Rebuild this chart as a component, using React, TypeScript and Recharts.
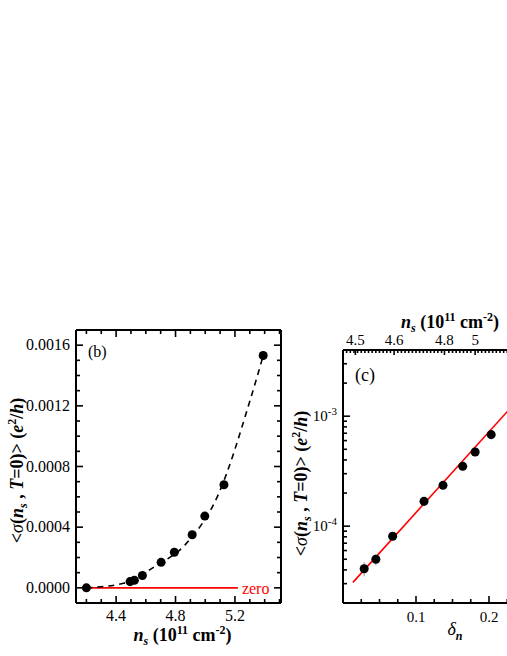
import React from "react";
import { ComposedChart, XAxis, YAxis, Scatter, Line, Label, LabelList, ErrorBar } from "recharts";

const FONT = "Liberation Serif, Times New Roman, serif";

// ---- panel (b): linear sigma vs n_s ----
const NS_B = [4.2, 4.494, 4.523, 4.577, 4.703, 4.792, 4.912, 4.997, 5.126, 5.39];
const SIGMA_B = [0, 4.1e-5, 5.0e-5, 8.1e-5, 1.68e-4, 2.35e-4, 3.5e-4, 4.73e-4, 6.8e-4, 1.532e-3];
const FIT_NS_B = [4.2, 4.45, 4.66, 4.87, 5.09, 5.3, 5.39];
const FIT_SIGMA_B = [0, 3e-5, 1.4e-4, 2.9e-4, 6.2e-4, 1.23e-3, 1.53e-3];
const ZERO_NS = [4.2, 5.22];
const NS_TICKS_B = [4.2, 4.3, 4.4, 4.5, 4.6, 4.7, 4.8, 4.9, 5.0, 5.1, 5.2, 5.3, 5.4, 5.5];
const NS_LABELS_B = [4.4, 4.8, 5.2];
const SIGMA_TICKS_B = [
  0, 0.0001, 0.0002, 0.0003, 0.0004, 0.0005, 0.0006, 0.0007, 0.0008,
  0.0009, 0.001, 0.0011, 0.0012, 0.0013, 0.0014, 0.0015, 0.0016,
];
const SIGMA_LABELS_B = [0, 0.0004, 0.0008, 0.0012, 0.0016];

// ---- panel (c): log sigma vs delta_n ----
const DELTA_C = [0.029, 0.045, 0.068, 0.111, 0.137, 0.164, 0.181, 0.203];
const SIGMA_C = [4.1e-5, 5.0e-5, 8.1e-5, 1.68e-4, 2.35e-4, 3.5e-4, 4.73e-4, 6.8e-4];
const ERR_C = [6e-6, 6e-6, 0, 0, 0, 0, 0, 0];
const FIT_DELTA_C = [0.0136, 0.24];
const FIT_SIGMA_C = [3.08e-5, 1.42e-3];
const DELTA_TICKS_C = [0.025, 0.05, 0.075, 0.1, 0.125, 0.15, 0.175, 0.2, 0.225, 0.25, 0.275];
const DELTA_LABELS_C = [0.1, 0.2];
const TOP_NS_LABELS = ["4.5", "4.6", "4.8", "5"];
const TOP_NS_POS = [0.017, 0.07, 0.139, 0.181];
const LOG_LABELS_C = [1e-4, 1e-3];

// minor ticks (axis decoration only)
const TOP_TICKS_C = Array.from({ length: 59 }, (_, i) => +((i + 1) * 0.005).toFixed(3))
  .filter((v) => !TOP_NS_POS.some((t) => Math.abs(t - v) < 0.002))
  .concat(TOP_NS_POS)
  .sort((a, b) => a - b);
const LOG_TICKS_C = [1e-5, 1e-4, 1e-3]
  .flatMap((d) => [1, 2, 3, 4, 5, 6, 7, 8, 9].map((m) => m * d))
  .filter((v) => v >= 2e-5 && v <= 4e-3);

const near = (arr: number[], v: number) => arr.some((t) => Math.abs(t - v) < 1e-12);

type Side = "bottom" | "top" | "left" | "right";
type TickOpts = { size: number; major: number; minor: number; gap: number };

function makeTick(
  side: Side,
  majors: number[],
  fmt: ((v: number) => React.ReactNode) | null,
  o: TickOpts
) {
  return (props: any) => {
    const { x, y, payload } = props;
    const v = payload.value as number;
    const isMajor = near(majors, v);
    const len = isMajor ? o.major : o.minor;
    const txt = isMajor && fmt ? fmt(v) : null;
    const t = { fontFamily: FONT, style: { fontFamily: FONT }, fontSize: o.size, fill: "#000" };
    const s = { stroke: "#000", strokeWidth: 1.6 };
    let ln;
    let label = null;
    if (side === "bottom") {
      ln = <line x1={x} y1={y} x2={x} y2={y - len} {...s} />;
      if (txt != null) label = <text x={x} y={y + o.gap} textAnchor="middle" {...t}>{txt}</text>;
    } else if (side === "top") {
      ln = <line x1={x} y1={y} x2={x} y2={y + len} {...s} />;
      if (txt != null) label = <text x={x} y={y - o.gap} textAnchor="middle" {...t}>{txt}</text>;
    } else if (side === "left") {
      ln = <line x1={x} y1={y} x2={x + len} y2={y} {...s} />;
      if (txt != null) label = <text x={x - o.gap} y={y + 5} textAnchor="end" {...t}>{txt}</text>;
    } else {
      ln = <line x1={x} y1={y} x2={x - len} y2={y} {...s} />;
    }
    return (
      <g>
        {ln}
        {label}
      </g>
    );
  };
}

const AXIS = {
  type: "number" as const,
  tickSize: 0,
  tickMargin: 0,
  interval: 0 as const,
  allowDataOverflow: true,
  tickLine: false,
  axisLine: { stroke: "#000", strokeWidth: 2 },
};

const TITLE = 18;
const SUP = 12;
const TXT = { fontFamily: FONT, style: { fontFamily: FONT }, fill: "#000" };

function NsTitle({ x, y }: { x: number; y: number }) {
  return (
    <text x={x} y={y} textAnchor="middle" fontSize={TITLE} fontWeight="bold" {...TXT}>
      <tspan fontStyle="italic">n</tspan>
      <tspan dy={4} fontSize={SUP} fontStyle="italic">s</tspan>
      <tspan dy={-4}> (10</tspan>
      <tspan dy={-7} fontSize={SUP}>11</tspan>
      <tspan dy={7}> cm</tspan>
      <tspan dy={-7} fontSize={SUP}>-2</tspan>
      <tspan dy={7}>)</tspan>
    </text>
  );
}

function SigmaTitle({ x, y }: { x: number; y: number }) {
  return (
    <text
      x={x}
      y={y}
      transform={`rotate(-90 ${x} ${y})`}
      textAnchor="middle"
      fontSize={TITLE}
      fontWeight="bold"
      {...TXT}
    >
      {"<"}
      <tspan fontStyle="italic" fontWeight="normal">σ</tspan>(
      <tspan fontStyle="italic">n</tspan>
      <tspan dy={4} fontSize={SUP} fontStyle="italic">s</tspan>
      <tspan dy={-4}>{" , "}</tspan>
      <tspan fontStyle="italic">T</tspan>
      {"=0)> ("}
      <tspan fontStyle="italic">e</tspan>
      <tspan dy={-7} fontSize={SUP}>2</tspan>
      <tspan dy={7}>/</tspan>
      <tspan fontStyle="italic">h</tspan>)
    </text>
  );
}

function PanelB() {
  const points = NS_B.map((x, i) => ({ x, y: SIGMA_B[i] }));
  const fit = FIT_NS_B.map((x, i) => ({ x, y: FIT_SIGMA_B[i] }));
  const zero = ZERO_NS.map((x, i) => ({ x, y: 0, name: i === ZERO_NS.length - 1 ? "zero" : "" }));
  const xDom: [number, number] = [4.13, 5.51];
  const yDom: [number, number] = [-0.0001, 0.0017];
  return (
    <ComposedChart width={300} height={356} margin={{ top: 29, right: 18, bottom: 23, left: 16 }}>
      <XAxis
        {...AXIS}
        xAxisId="b"
        dataKey="x"
        domain={xDom}
        ticks={NS_TICKS_B}
        height={30}
        tick={makeTick("bottom", NS_LABELS_B, (v) => v.toFixed(1), { size: 16, major: 7, minor: 4, gap: 18 })}
      >
        <Label content={(p: any) => <NsTitle x={p.viewBox.x + p.viewBox.width / 2 + 4} y={p.viewBox.y + 38} />} />
      </XAxis>
      <XAxis
        {...AXIS}
        xAxisId="t"
        dataKey="x"
        orientation="top"
        domain={xDom}
        ticks={NS_TICKS_B}
        height={1}
        tick={makeTick("top", NS_LABELS_B, null, { size: 16, major: 7, minor: 4, gap: 0 })}
      >
        <Label
          content={(p: any) => (
            <text x={p.viewBox.x + 12} y={p.viewBox.y + 28} fontSize={16} {...TXT}>
              (b)
            </text>
          )}
        />
      </XAxis>
      <YAxis
        {...AXIS}
        yAxisId="l"
        dataKey="y"
        domain={yDom}
        ticks={SIGMA_TICKS_B}
        width={60}
        tick={makeTick("left", SIGMA_LABELS_B, (v) => v.toFixed(4), { size: 16, major: 7, minor: 4, gap: 6 })}
      >
        <Label content={(p: any) => <SigmaTitle x={p.viewBox.x + 7} y={p.viewBox.y + p.viewBox.height / 2 + 4} />} />
      </YAxis>
      <YAxis
        {...AXIS}
        yAxisId="r"
        dataKey="y"
        orientation="right"
        domain={yDom}
        ticks={SIGMA_TICKS_B}
        width={1}
        tick={makeTick("right", SIGMA_LABELS_B, null, { size: 16, major: 7, minor: 4, gap: 0 })}
      />
      {/* invisible series so the top/right frame axes get a scale */}
      <Line xAxisId="t" yAxisId="r" data={points} dataKey="y" stroke="none" dot={false} activeDot={false} isAnimationActive={false} />
      <Line
        xAxisId="b"
        yAxisId="l"
        data={zero}
        dataKey="y"
        type="linear"
        stroke="#ff0000"
        strokeWidth={1.6}
        dot={false}
        activeDot={false}
        isAnimationActive={false}
      >
        <LabelList dataKey="name" position="right" offset={4} fill="#ff0000" fontFamily={FONT} style={{ fontFamily: FONT }} fontSize={16} />
      </Line>
      <Line
        xAxisId="b"
        yAxisId="l"
        data={fit}
        dataKey="y"
        type="monotone"
        stroke="#000"
        strokeWidth={1.6}
        strokeDasharray="6 5"
        dot={false}
        activeDot={false}
        isAnimationActive={false}
      />
      <Scatter xAxisId="b" yAxisId="l" data={points} dataKey="y" fill="#000" isAnimationActive={false} />
    </ComposedChart>
  );
}

function PanelC() {
  const points = DELTA_C.map((x, i) => ({ x, y: SIGMA_C[i], e: ERR_C[i] }));
  const fit = FIT_DELTA_C.map((x, i) => ({ x, y: FIT_SIGMA_C[i] }));
  const xDom: [number, number] = [0, 0.3];
  const yDom: [number, number] = [2e-5, 4e-3];
  const logFmt = (v: number) => (
    <>
      <tspan>10</tspan>
      <tspan dy={-6} fontSize={11}>{String(Math.round(Math.log10(v)))}</tspan>
    </>
  );
  return (
    <ComposedChart width={313} height={356} margin={{ top: 20, right: 10, bottom: 23, left: 23 }}>
      <XAxis
        {...AXIS}
        xAxisId="b"
        dataKey="x"
        domain={xDom}
        ticks={DELTA_TICKS_C}
        height={30}
        tick={makeTick("bottom", DELTA_LABELS_C, (v) => v.toFixed(1), { size: 15, major: 7, minor: 4, gap: 19 })}
      >
        <Label
          content={(p: any) => (
            <text
              x={p.viewBox.x + 112}
              y={p.viewBox.y + 32}
              textAnchor="middle"
              fontSize={TITLE}
              fontWeight="bold"
              {...TXT}
            >
              <tspan fontStyle="italic" fontWeight="normal">δ</tspan>
              <tspan dy={5} fontSize={SUP} fontStyle="italic">n</tspan>
            </text>
          )}
        />
      </XAxis>
      <XAxis
        {...AXIS}
        xAxisId="t"
        dataKey="x"
        orientation="top"
        domain={xDom}
        ticks={TOP_TICKS_C}
        height={30}
        tick={makeTick(
          "top",
          TOP_NS_POS,
          (v) => TOP_NS_LABELS[TOP_NS_POS.findIndex((t) => Math.abs(t - v) < 1e-12)],
          { size: 15, major: 5, minor: 3, gap: 5 }
        )}
      >
        <Label
          content={(p: any) => (
            <g>
              <NsTitle x={p.viewBox.x + 107} y={p.viewBox.y + 8} />
              <text x={p.viewBox.x + 12} y={p.viewBox.y + p.viewBox.height + 31} fontSize={18} {...TXT}>
                (c)
              </text>
            </g>
          )}
        />
      </XAxis>
      <YAxis
        {...AXIS}
        yAxisId="l"
        dataKey="y"
        scale="log"
        domain={yDom}
        ticks={LOG_TICKS_C}
        width={60}
        tick={makeTick("left", LOG_LABELS_C, logFmt, { size: 15, major: 7, minor: 4, gap: 6 })}
      >
        <Label content={(p: any) => <SigmaTitle x={p.viewBox.x + 24} y={p.viewBox.y + p.viewBox.height / 2 + 7} />} />
      </YAxis>
      <YAxis {...AXIS} yAxisId="r" dataKey="y" orientation="right" scale="log" domain={yDom} ticks={LOG_TICKS_C} width={1} tick={false} />
      {/* invisible series so the top/right frame axes get a scale */}
      <Line xAxisId="t" yAxisId="r" data={points} dataKey="y" stroke="none" dot={false} activeDot={false} isAnimationActive={false} />
      <Line
        xAxisId="b"
        yAxisId="l"
        data={fit}
        dataKey="y"
        type="linear"
        stroke="#ff0000"
        strokeWidth={1.6}
        dot={false}
        activeDot={false}
        isAnimationActive={false}
      />
      <Scatter xAxisId="b" yAxisId="l" data={points} dataKey="y" fill="#000" isAnimationActive={false}>
        <ErrorBar dataKey="e" direction="y" width={0} stroke="#999" strokeWidth={1} />
      </Scatter>
    </ComposedChart>
  );
}

export default function App() {
  return (
    <div
      style={{
        position: "fixed",
        left: 0,
        top: 0,
        width: 507,
        height: 656,
        overflow: "hidden",
        background: "#fff",
        fontFamily: FONT,
      }}
    >
      <div style={{ position: "absolute", left: 260, top: 300 }}>
        <PanelC />
      </div>
      <div style={{ position: "absolute", left: 0, top: 300 }}>
        <PanelB />
      </div>
    </div>
  );
}
